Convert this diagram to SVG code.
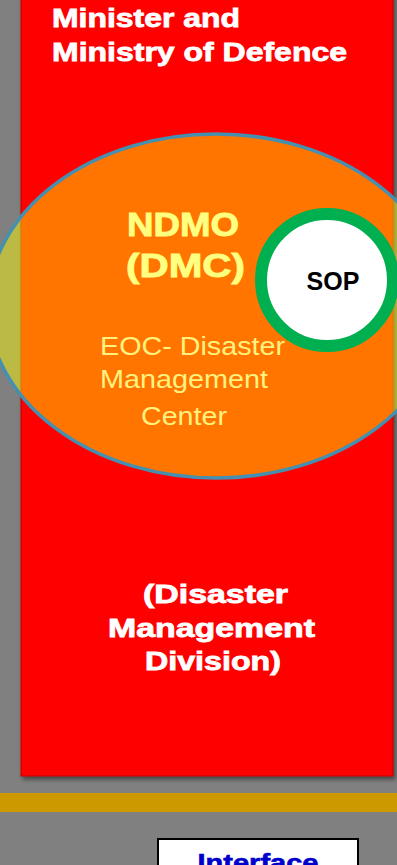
<svg xmlns="http://www.w3.org/2000/svg" width="397" height="865" viewBox="0 0 397 865">
  <defs>
    <filter id="shadow" x="-10%" y="-10%" width="120%" height="120%">
      <feDropShadow dx="2" dy="3" stdDeviation="2" flood-color="#000" flood-opacity="0.45"/>
    </filter>
    <style>
      .bold { font-family: "Liberation Sans", Arial, sans-serif; font-weight: bold; }
      .reg { font-family: "Liberation Sans", Arial, sans-serif; font-weight: normal; }
      .white { fill: #FFFFFF; stroke: #FFFFFF; stroke-width: 0.8; }
      .yel { fill: #FFFF80; stroke: #FFFF80; stroke-width: 0.9; }
      .yel2 { fill: #FFF27F; }
    </style>
  </defs>
  <rect x="0" y="0" width="397" height="865" fill="#808080"/>

  <g id="ministry">
    <rect x="21" y="-20" width="372" height="796" fill="#FF0000" stroke="#C00000" stroke-width="1" filter="url(#shadow)"/>
    <text class="bold white" x="52" y="27" font-size="26" textLength="188" lengthAdjust="spacingAndGlyphs">Minister and</text>
    <text class="bold white" x="52" y="61" font-size="26" textLength="295" lengthAdjust="spacingAndGlyphs">Ministry of Defence</text>
  </g>

  <g id="dmd">
    <text class="bold white" x="143" y="603" font-size="25" textLength="145" lengthAdjust="spacingAndGlyphs">(Disaster</text>
    <text class="bold white" x="108" y="637" font-size="25" textLength="207" lengthAdjust="spacingAndGlyphs">Management</text>
    <text class="bold white" x="145" y="670" font-size="25" textLength="136" lengthAdjust="spacingAndGlyphs">Division)</text>
  </g>

  <g id="ndmo">
    <ellipse cx="216" cy="306" rx="228" ry="172" fill="#FFFF00" fill-opacity="0.46" stroke="#4590B0" stroke-width="3.5"/>
    <text class="bold yel" x="127" y="236" font-size="33" textLength="112" lengthAdjust="spacingAndGlyphs">NDMO</text>
    <text class="bold yel" x="126" y="277" font-size="33" textLength="119" lengthAdjust="spacingAndGlyphs">(DMC)</text>
    <text class="reg yel2" x="100" y="355" font-size="26" textLength="185" lengthAdjust="spacingAndGlyphs">EOC- Disaster</text>
    <text class="reg yel2" x="100" y="388" font-size="26" textLength="168" lengthAdjust="spacingAndGlyphs">Management</text>
    <text class="reg yel2" x="141" y="425" font-size="26" textLength="86" lengthAdjust="spacingAndGlyphs">Center</text>
  </g>

  <g id="sop">
    <circle cx="327" cy="280" r="66" fill="#FFFFFF" stroke="#00B050" stroke-width="12"/>
    <text class="bold" x="333" y="290" font-size="25" fill="#000000" text-anchor="middle">SOP</text>
  </g>

  <g id="band">
    <rect x="0" y="793" width="397" height="19" fill="#CC9900"/>
  </g>

  <g id="interface">
    <rect x="158" y="839" width="200" height="40" fill="#FFFFFF" stroke="#000000" stroke-width="2"/>
    <text class="bold" x="258" y="871" font-size="24" fill="#0000CC" stroke="#0000CC" stroke-width="0.6" text-anchor="middle" textLength="121" lengthAdjust="spacingAndGlyphs">Interface</text>
  </g>

  <g id="connectors"/>
</svg>
